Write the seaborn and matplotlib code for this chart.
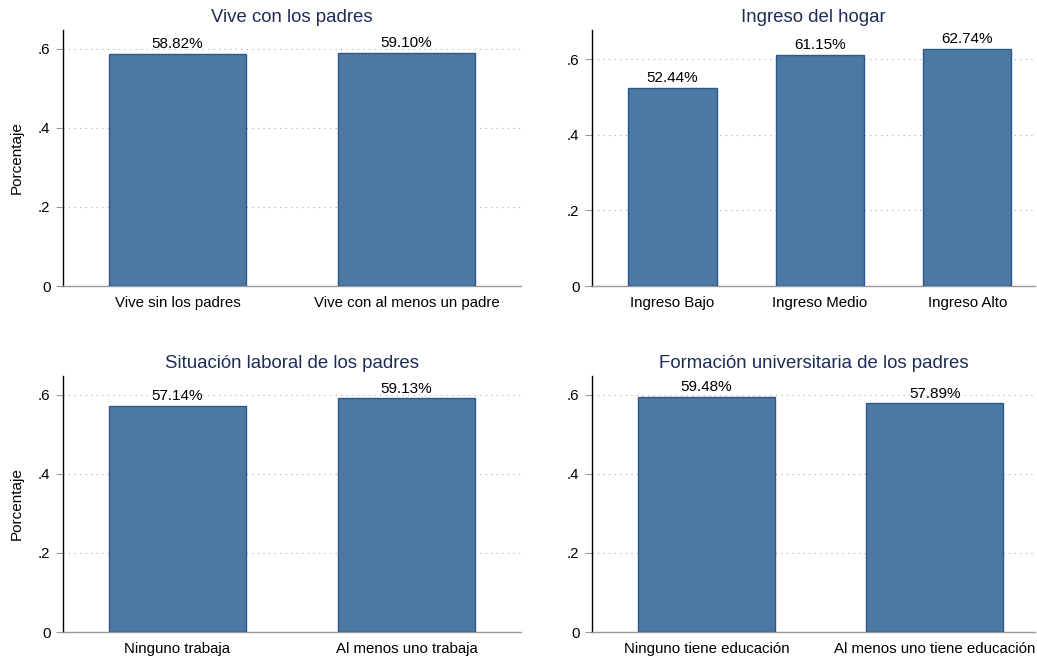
import pandas as pd
import seaborn as sns
import matplotlib.pyplot as plt
from matplotlib.ticker import FuncFormatter

# data
titles = ['Vive con los padres', 'Ingreso del hogar',
          'Situación laboral de los padres', 'Formación universitaria de los padres']
cats_padres = ['Vive sin los padres', 'Vive con al menos un padre']
vals_padres = [0.5882, 0.5910]
cats_ingreso = ['Ingreso Bajo', 'Ingreso Medio', 'Ingreso Alto']
vals_ingreso = [0.5244, 0.6115, 0.6274]
cats_laboral = ['Ninguno trabaja', 'Al menos uno trabaja']
vals_laboral = [0.5714, 0.5913]
cats_educ = ['Ninguno tiene educación', 'Al menos uno tiene educación']
vals_educ = [0.5948, 0.5789]

bar_color = '#4C78A2'
edge_color = '#2B5A8C'
title_color = '#1E2D55'

sns.set_theme(style='white')
plt.rcParams['font.family'] = ['Liberation Sans', 'DejaVu Sans']

fig = plt.figure(figsize=(10.37, 6.61), dpi=100)
W, H = 1037, 661

def px_axes(x0, x1, ytop, ybot):
    return fig.add_axes([x0 / W, 1 - ybot / H, (x1 - x0) / W, (ybot - ytop) / H])

panels = [
    (px_axes(63, 521, 30, 286), cats_padres, vals_padres, titles[0], (-0.5, 1.5), 0.648, True),
    (px_axes(592, 1035, 30, 286), cats_ingreso, vals_ingreso, titles[1], (-0.546, 2.46), 0.678, False),
    (px_axes(63, 521, 376, 632), cats_laboral, vals_laboral, titles[2], (-0.5, 1.5), 0.648, True),
    (px_axes(592, 1035, 376, 632), cats_educ, vals_educ, titles[3], (-0.502, 1.44), 0.648, False),
]

for ax, cats, vals, title, xlim, ymax, ylab in panels:
    df = pd.DataFrame({'cat': cats, 'val': vals})
    sns.barplot(data=df, x='cat', y='val', order=cats, color=bar_color, saturation=1,
                width=0.6, edgecolor=edge_color, linewidth=1.0, ax=ax, zorder=3)
    for p, v in zip(ax.patches, vals):
        ax.annotate(f'{v * 100:.2f}%', (p.get_x() + p.get_width() / 2, p.get_height()),
                    xytext=(0, 2), textcoords='offset points', ha='center', va='bottom',
                    fontsize=11, color='black')
    ax.set_xlim(*xlim)
    ax.set_ylim(0, ymax)
    ax.set_yticks([0, 0.2, 0.4, 0.6])
    ax.yaxis.set_major_formatter(FuncFormatter(lambda y, _: '0' if y == 0 else f'{y:.1f}'.lstrip('0')))
    ax.grid(axis='y', linestyle=(0, (1, 4)), color='#AAAAAA', linewidth=0.8, zorder=0)
    ax.set_axisbelow(True)
    for s in ['top', 'right']:
        ax.spines[s].set_visible(False)
    ax.spines['left'].set_color('black')
    ax.spines['left'].set_linewidth(1.0)
    ax.spines['bottom'].set_color('#999999')
    ax.spines['bottom'].set_linewidth(1.0)
    ax.tick_params(axis='y', left=True, length=5, width=0.8, color='#999999',
                   labelsize=10.8, labelcolor='black', pad=4)
    ax.tick_params(axis='x', bottom=False, length=0, labelsize=10.8, labelcolor='black', pad=7.5)
    ax.set_xlabel('')
    ax.set_ylabel('Porcentaje' if ylab else '', fontsize=11, color='black', labelpad=10)
    ax.set_title(title, fontsize=13.4, color=title_color, pad=6)

fig.savefig('out.png', dpi=100)
